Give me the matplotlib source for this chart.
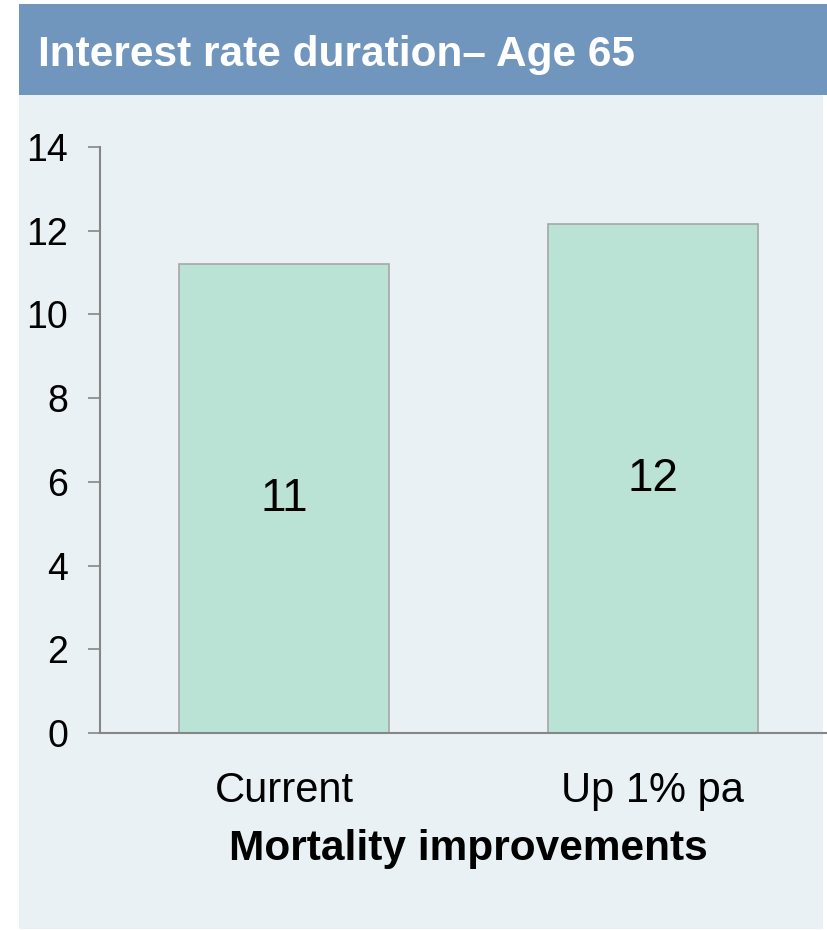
import matplotlib
matplotlib.use("Agg")
import matplotlib.pyplot as plt
from matplotlib.patches import Rectangle

plt.rcParams['font.family'] = ['Liberation Sans', 'DejaVu Sans']

# data
categories = ['Current', 'Up 1% pa']
durations = [11.2, 12.15]
bar_labels = ['11', '12']
yticks = [0, 2, 4, 6, 8, 10, 12, 14]

W, H = 828, 930
fig = plt.figure(figsize=(W / 100, H / 100), dpi=100)
fig.patch.set_facecolor('white')

# panel background + title band
fig.patches.append(Rectangle((19 / W, 1 - 929 / H), (823 - 19) / W, (929 - 95) / H,
                             transform=fig.transFigure, facecolor='#e9f1f5',
                             edgecolor='none', zorder=-2))
fig.patches.append(Rectangle((19 / W, 1 - 95 / H), (W - 19) / W, (95 - 4) / H,
                             transform=fig.transFigure, facecolor='#7096be',
                             edgecolor='none', zorder=-2))
fig.text(38 / W, 1 - 66 / H, 'Interest rate duration\u2013 Age 65', color='white',
         fontsize=30.5, fontweight='bold', ha='left', va='baseline')

ax = fig.add_axes([100 / W, 1 - 733 / H, 736.75 / W, 586 / H])
ax.set_zorder(1)
ax.set_facecolor('none')

x = range(len(categories))
ax.bar(x, durations, width=0.57, color='#bbe3d5', edgecolor='#a6a6a6', linewidth=1.2, zorder=2)
for i, (v, lab) in enumerate(zip(durations, bar_labels)):
    ax.text(i, v / 2, lab, ha='center', va='center', fontsize=33, color='black', zorder=3)

ax.set_xlim(-0.5, 1.5)
ax.set_ylim(0, 14)
ax.set_yticks(yticks)
ax.set_xticks(list(x))
ax.set_xticklabels(categories, fontsize=30)
ax.tick_params(axis='y', labelsize=27, length=9, width=1.2, color='#868686', pad=14)
ax.tick_params(axis='x', length=0, pad=27)
ax.set_xlabel('Mortality improvements', fontsize=30.5, fontweight='bold', labelpad=13)

for s in ['top', 'right']:
    ax.spines[s].set_visible(False)
for s in ['left', 'bottom']:
    ax.spines[s].set_color('#868686')
    ax.spines[s].set_linewidth(1.5)

fig.savefig('out.png', dpi=100)
